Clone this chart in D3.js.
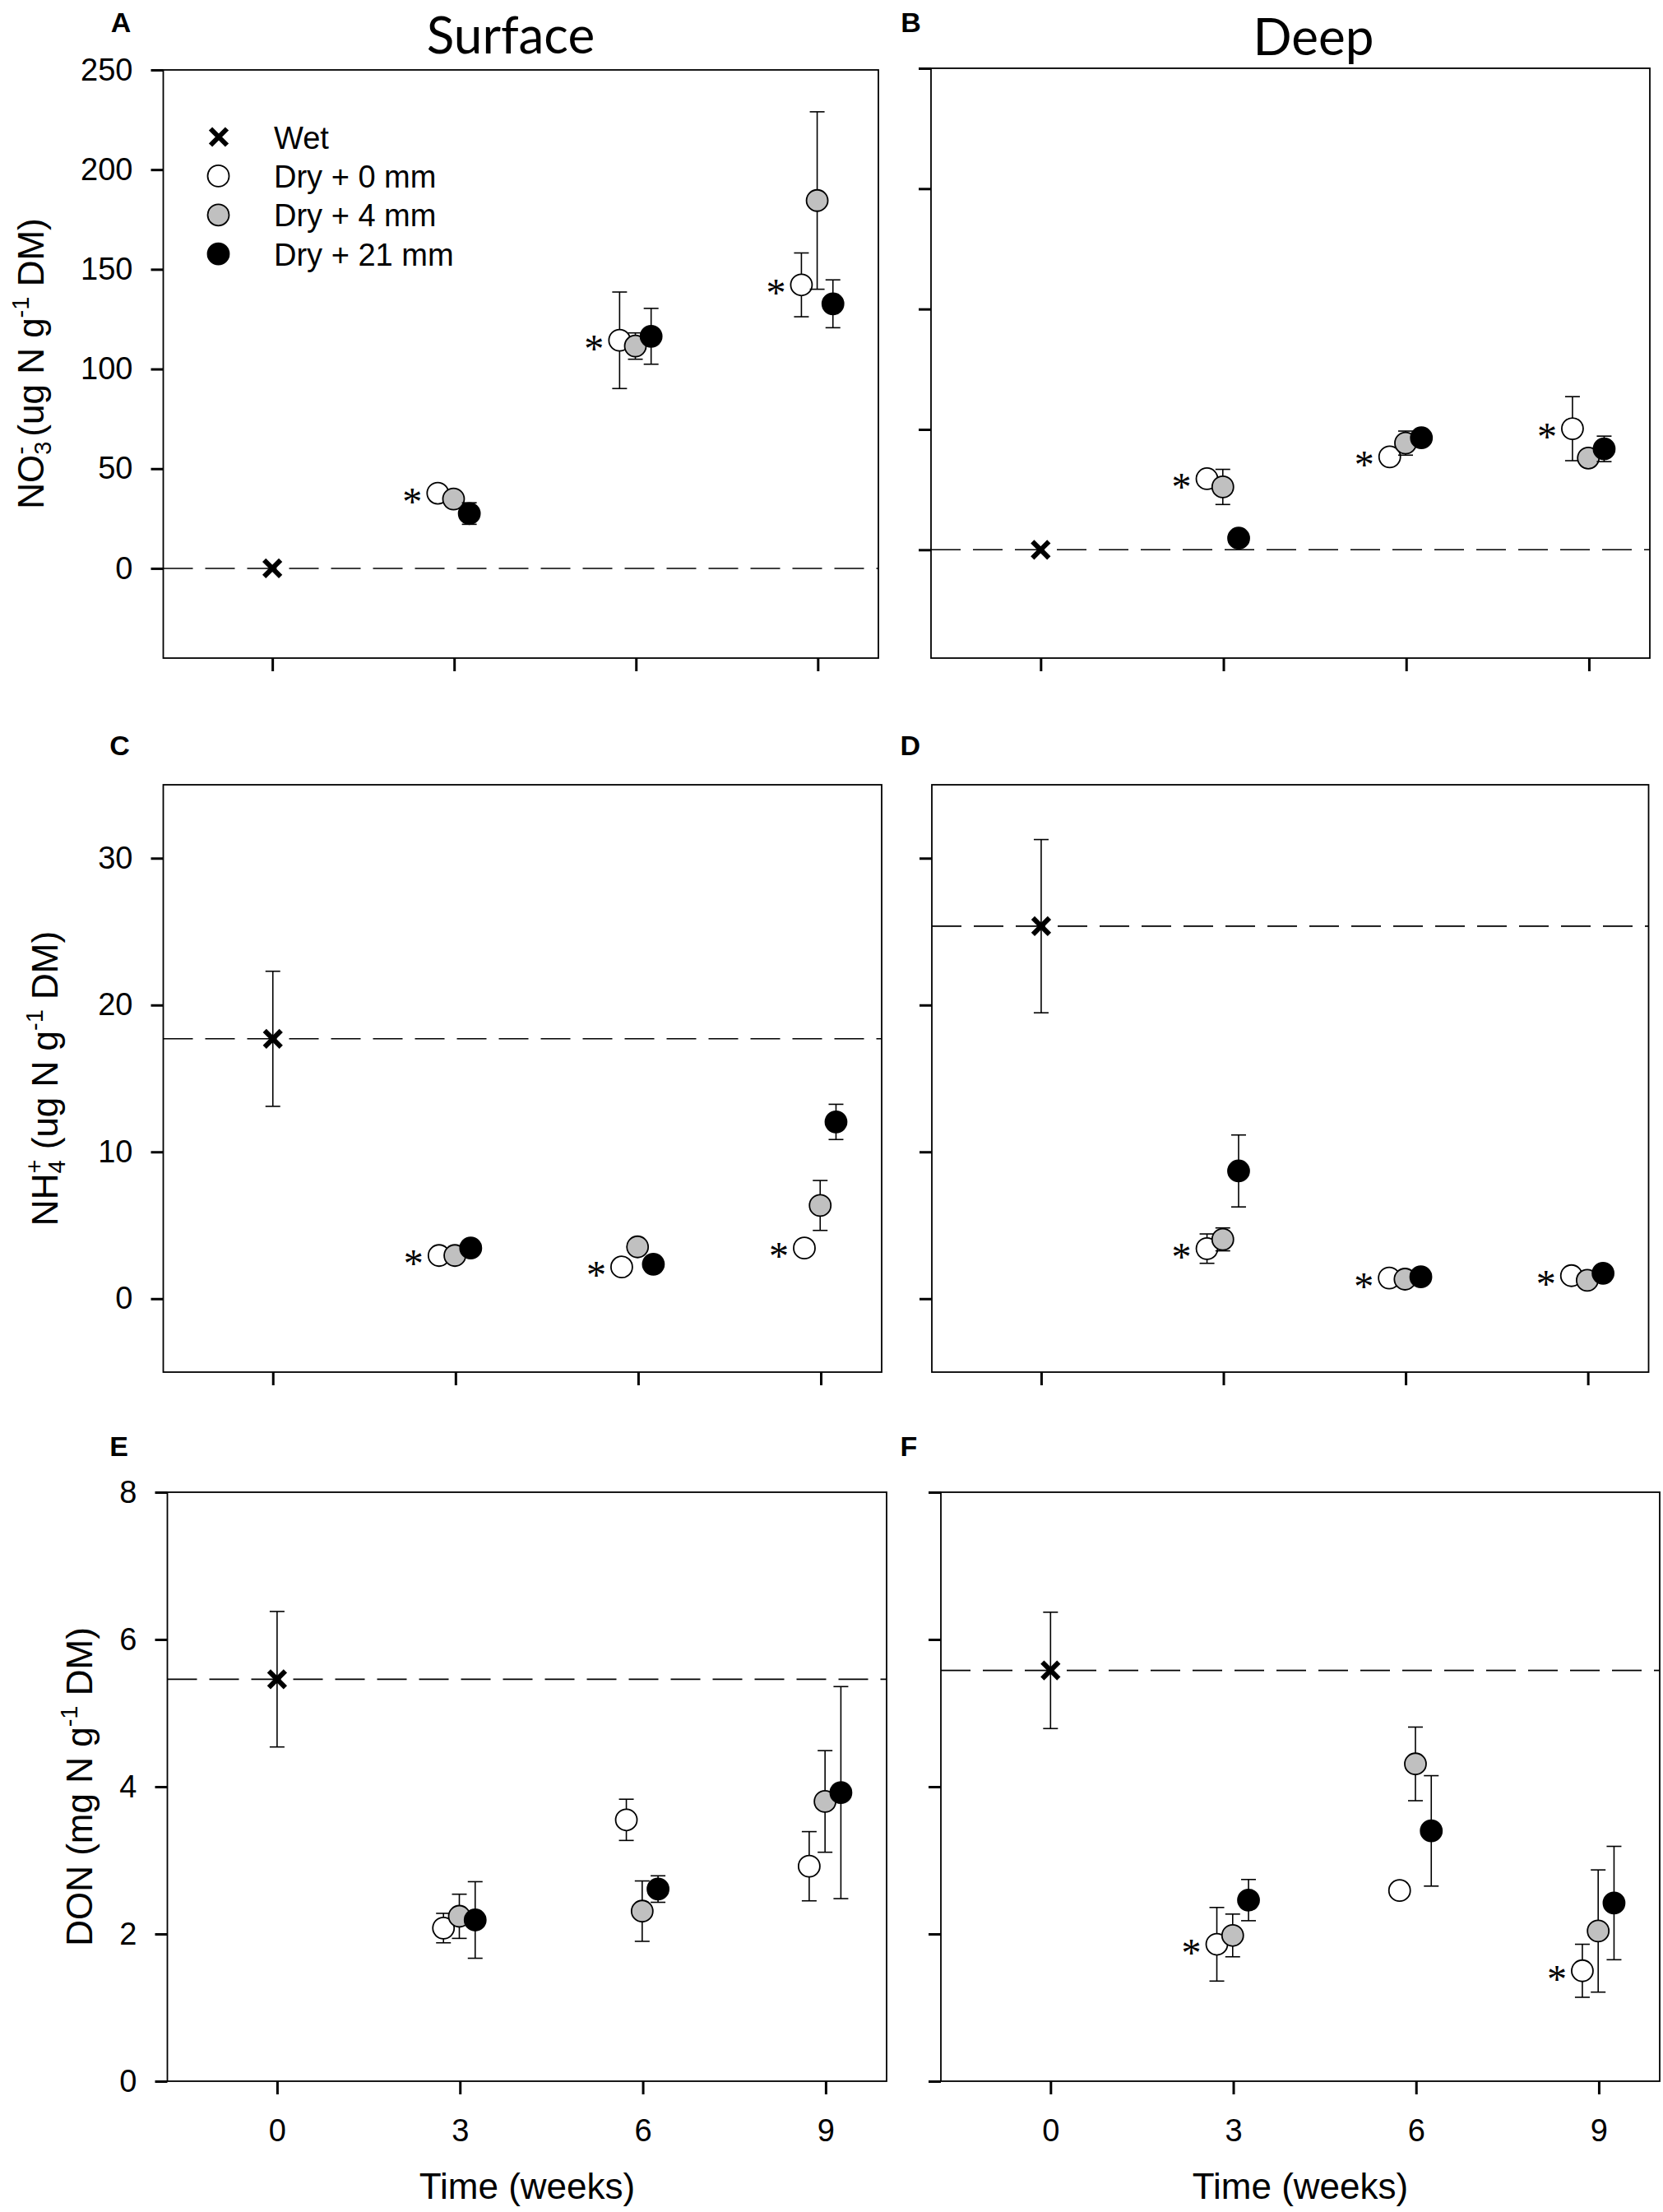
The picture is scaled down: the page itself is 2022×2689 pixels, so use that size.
<!DOCTYPE html>
<html>
<head>
<meta charset="utf-8">
<script src="https://cdn.jsdelivr.net/npm/d3@7"></script>
<style>
  body { margin: 0; background: #fff; }
  svg { display: block; }
</style>
</head>
<body>
<script>
// canvas
const W = 2022, H = 2689;

// ---- data ----
const xTicks = [0, 3, 6, 9];
const weeks = [3, 6, 9];
const seriesNames = ["Wet", "Dry + 0 mm", "Dry + 4 mm", "Dry + 21 mm"];

// y axis ranges and ticks
const yDomainNo3Surf = [-45, 250];
const yDomainNo3Deep = [-45, 200];
const yDomainNh4 = [-5, 35];
const yDomainDon = [0, 8];
const yTicksNo3Surf = [0, 50, 100, 150, 200, 250];
const yTicksNo3Deep = [0, 50, 100, 150, 200];
const yTicksNh4 = [0, 10, 20, 30];
const yTicksDon = [0, 2, 4, 6, 8];

// A: NO3- surface   (wet = [mean, se] at week 0)
const no3SurfWet = [0, 0];
const no3SurfDry0 = [37.7, 114.4, 142.2];
const no3SurfDry0Se = [1.5, 24.2, 16.0];
const no3SurfDry4 = [34.8, 111.5, 184.5];
const no3SurfDry4Se = [1.5, 6.6, 44.5];
const no3SurfDry21 = [27.5, 116.4, 132.7];
const no3SurfDry21Se = [5.4, 14.0, 12.0];

// B: NO3- deep
const no3DeepWet = [0, 0];
const no3DeepDry0 = [29.5, 38.6, 50.3];
const no3DeepDry0Se = [1.5, 1.5, 13.3];
const no3DeepDry4 = [26.1, 44.3, 38.1];
const no3DeepDry4Se = [7.3, 5.0, 1.5];
const no3DeepDry21 = [4.8, 46.5, 41.9];
const no3DeepDry21Se = [1.5, 1.5, 5.3];

// C: NH4+ surface
const nh4SurfWet = [17.7, 4.6];
const nh4SurfDry0 = [2.94, 2.16, 3.45];
const nh4SurfDry0Se = [0.3, 0.3, 0.3];
const nh4SurfDry4 = [2.94, 3.53, 6.35];
const nh4SurfDry4Se = [0.3, 0.3, 1.7];
const nh4SurfDry21 = [3.45, 2.35, 12.04];
const nh4SurfDry21Se = [0.3, 0.45, 1.2];

// D: NH4+ deep
const nh4DeepWet = [25.37, 5.9];
const nh4DeepDry0 = [3.41, 1.41, 1.57];
const nh4DeepDry0Se = [1.0, 0.2, 0.2];
const nh4DeepDry4 = [4.04, 1.33, 1.25];
const nh4DeepDry4Se = [0.78, 0.2, 0.2];
const nh4DeepDry21 = [8.7, 1.49, 1.73];
const nh4DeepDry21Se = [2.45, 0.2, 0.2];

// E: DON surface
const donSurfWet = [5.46, 0.92];
const donSurfDry0 = [2.08, 3.55, 2.92];
const donSurfDry0Se = [0.2, 0.28, 0.47];
const donSurfDry4 = [2.24, 2.31, 3.80];
const donSurfDry4Se = [0.3, 0.41, 0.69];
const donSurfDry21 = [2.19, 2.61, 3.92];
const donSurfDry21Se = [0.52, 0.18, 1.44];

// F: DON deep
const donDeepWet = [5.58, 0.79];
const donDeepDry0 = [1.86, 2.59, 1.50];
const donDeepDry0Se = [0.5, 0.05, 0.36];
const donDeepDry4 = [1.98, 4.31, 2.04];
const donDeepDry4Se = [0.29, 0.5, 0.83];
const donDeepDry21 = [2.46, 3.40, 2.42];
const donDeepDry21Se = [0.28, 0.75, 0.77];

// weeks flagged with an asterisk (next to Dry + 0 mm)
const starsA = [3, 6, 9];
const starsB = [3, 6, 9];
const starsC = [3, 6, 9];
const starsD = [3, 6, 9];
const starsE = [];
const starsF = [3, 9];

// ---- styles / layout ----
const SANS = "'Liberation Sans', Arial, Helvetica, sans-serif";
const fills = ["#ffffff", "#c0c0c0", "#000000"];
const jitter = [-0.27, -0.01, 0.25];   // horizontal offset of the three dry series (weeks)
const xDomain = [-1.8, 10];
const R = 13;

const panels = [
    { id: "A", box: [198.5, 85, 1068, 800], yDomain: yDomainNo3Surf, yTicks: yTicksNo3Surf, yLabels: true, xLabels: false,
      wet: no3SurfWet, dry: [no3SurfDry0, no3SurfDry4, no3SurfDry21], se: [no3SurfDry0Se, no3SurfDry4Se, no3SurfDry21Se],
      stars: starsA, letter: [134.7, 38.6] },
    { id: "B", box: [1132, 83, 2006, 800], yDomain: yDomainNo3Deep, yTicks: yTicksNo3Deep, yLabels: false, xLabels: false,
      wet: no3DeepWet, dry: [no3DeepDry0, no3DeepDry4, no3DeepDry21], se: [no3DeepDry0Se, no3DeepDry4Se, no3DeepDry21Se],
      stars: starsB, letter: [1095.3, 38.6] },
    { id: "C", box: [198.5, 954, 1072, 1668], yDomain: yDomainNh4, yTicks: yTicksNh4, yLabels: true, xLabels: false,
      wet: nh4SurfWet, dry: [nh4SurfDry0, nh4SurfDry4, nh4SurfDry21], se: [nh4SurfDry0Se, nh4SurfDry4Se, nh4SurfDry21Se],
      stars: starsC, letter: [133.3, 918] },
    { id: "D", box: [1133, 954, 2004.5, 1668], yDomain: yDomainNh4, yTicks: yTicksNh4, yLabels: false, xLabels: false,
      wet: nh4DeepWet, dry: [nh4DeepDry0, nh4DeepDry4, nh4DeepDry21], se: [nh4DeepDry0Se, nh4DeepDry4Se, nh4DeepDry21Se],
      stars: starsD, letter: [1094.6, 918] },
    { id: "E", box: [203.5, 1814, 1078, 2530], yDomain: yDomainDon, yTicks: yTicksDon, yLabels: true, xLabels: true,
      wet: donSurfWet, dry: [donSurfDry0, donSurfDry4, donSurfDry21], se: [donSurfDry0Se, donSurfDry4Se, donSurfDry21Se],
      stars: starsE, letter: [133.3, 1770] },
    { id: "F", box: [1144, 1814, 2018, 2530], yDomain: yDomainDon, yTicks: yTicksDon, yLabels: false, xLabels: true,
      wet: donDeepWet, dry: [donDeepDry0, donDeepDry4, donDeepDry21], se: [donDeepDry0Se, donDeepDry4Se, donDeepDry21Se],
      stars: starsF, letter: [1094.6, 1770] }
];

const svg = d3.select("body").append("svg")
    .attr("width", W)
    .attr("height", H);

svg.append("rect").attr("width", W).attr("height", H).attr("fill", "#fff");

// error bar with caps
function errBar(g, cx, y, m, e) {
    if (!e) return;
    const y1 = y(m - e), y2 = y(m + e);
    g.append("line").attr("x1", cx).attr("x2", cx).attr("y1", y1).attr("y2", y2)
        .attr("stroke", "#000").attr("stroke-width", 1.6);
    [y1, y2].forEach(v => {
        g.append("line").attr("x1", cx - 9).attr("x2", cx + 9).attr("y1", v).attr("y2", v)
            .attr("stroke", "#000").attr("stroke-width", 1.6);
    });
}

function cross(g, cx, cy) {
    const s = 10;
    g.append("path")
        .attr("d", `M${cx - s},${cy - s}L${cx + s},${cy + s}M${cx - s},${cy + s}L${cx + s},${cy - s}`)
        .attr("stroke", "#000").attr("stroke-width", 6).attr("fill", "none");
}

function drawPanel(p) {
    const [x0, y0, x1, y1] = p.box;
    const x = d3.scaleLinear().domain(xDomain).range([x0, x1]);
    const y = d3.scaleLinear().domain(p.yDomain).range([y1, y0]);
    const g = svg.append("g").attr("class", "panel-" + p.id);

    // panel letter
    g.append("text").attr("x", p.letter[0]).attr("y", p.letter[1])
        .attr("font-family", SANS).attr("font-weight", "bold").attr("font-size", 34)
        .text(p.id);

    // y axis
    const ya = g.append("g").attr("transform", `translate(${x0},0)`)
        .call(d3.axisLeft(y).tickValues(p.yTicks).tickSize(15).tickPadding(22)
            .tickFormat(p.yLabels ? d3.format("d") : ""));
    ya.select(".domain").remove();

    // x axis
    const xa = g.append("g").attr("transform", `translate(0,${y1})`)
        .call(d3.axisBottom(x).tickValues(xTicks).tickSize(16)
            .tickFormat(p.xLabels ? d3.format("d") : ""));
    xa.select(".domain").remove();
    xa.selectAll("text").attr("y", 73).attr("dy", 0);

    [ya, xa].forEach(a => {
        a.selectAll(".tick line").attr("stroke", "#000").attr("stroke-width", 3);
        a.selectAll("text").attr("font-family", SANS).attr("font-size", 38).attr("fill", "#000");
    });

    // frame
    g.append("rect").attr("x", x0).attr("y", y0).attr("width", x1 - x0).attr("height", y1 - y0)
        .attr("fill", "none").attr("stroke", "#000").attr("stroke-width", 1.8);

    // dashed reference line at the wet mean
    g.append("line").attr("x1", x0).attr("x2", x1).attr("y1", y(p.wet[0])).attr("y2", y(p.wet[0]))
        .attr("stroke", "#000").attr("stroke-width", 1.6).attr("stroke-dasharray", "36,15");

    // wet
    errBar(g, x(0), y, p.wet[0], p.wet[1]);
    cross(g, x(0), y(p.wet[0]));

    // dry treatments
    p.dry.forEach((vals, s) => {
        vals.forEach((v, i) => {
            const cx = x(weeks[i] + jitter[s]);
            errBar(g, cx, y, v, p.se[s][i]);
            g.append("circle").attr("cx", cx).attr("cy", y(v)).attr("r", R)
                .attr("fill", fills[s]).attr("stroke", "#000").attr("stroke-width", 1.8);
        });
    });

    // asterisks
    p.stars.forEach(wk => {
        const i = weeks.indexOf(wk);
        g.append("text")
            .attr("x", x(wk + jitter[0]) - 31)
            .attr("y", y(p.dry[0][i]) + 3 + 23)
            .attr("text-anchor", "middle")
            .attr("font-family", "'Liberation Serif', 'Times New Roman', serif")
            .attr("font-size", 48)
            .text("*");
    });
    return { x, y };
}

panels.forEach(drawPanel);

// column titles
svg.append("text").attr("x", 621).attr("y", 64.5).attr("text-anchor", "middle")
    .attr("font-family", "Lato, 'Open Sans', sans-serif").attr("font-size", 62).text("Surface");
svg.append("text").attr("x", 1597).attr("y", 66.6).attr("text-anchor", "middle")
    .attr("font-family", "Lato, 'Open Sans', sans-serif").attr("font-size", 62).text("Deep");

// y axis titles (rotated), with sub/superscripts
function yTitle(cx, cy, parts) {
    const t = svg.append("text")
        .attr("transform", `translate(${cx},${cy}) rotate(-90)`)
        .attr("text-anchor", "middle")
        .attr("font-family", SANS).attr("font-size", 44);
    parts.forEach(p => {
        const ts = t.append("tspan").text(p.t);
        if (p.fs) ts.attr("font-size", p.fs);
        if (p.dx) ts.attr("dx", p.dx);
        if (p.dy) ts.attr("dy", p.dy);
    });
}

yTitle(53, 442, [
    { t: "NO" },
    { t: "3", fs: 29, dy: 9 },
    { t: "-", fs: 29, dx: -16, dy: -27 },
    { t: " (ug N g", dy: 18 },
    { t: "-1", fs: 29, dy: -18 },
    { t: "  DM)", dy: 18 }
]);
yTitle(70, 1311, [
    { t: "NH" },
    { t: "4", fs: 29, dy: 9 },
    { t: "+", fs: 29, dx: -16, dy: -27 },
    { t: " (ug N g", dy: 18 },
    { t: "-1", fs: 29, dy: -18 },
    { t: " DM)", dy: 18 }
]);
yTitle(112, 2172, [
    { t: "DON (mg N g" },
    { t: "-1", fs: 29, dy: -18 },
    { t: " DM)", dy: 18 }
]);

// x axis titles
[[641, 2673], [1581, 2673]].forEach(([cx, cy]) => {
    svg.append("text").attr("x", cx).attr("y", cy).attr("text-anchor", "middle")
        .attr("font-family", SANS).attr("font-size", 44).text("Time (weeks)");
});

// legend (panel A)
const leg = svg.append("g").attr("class", "legend");
seriesNames.forEach((name, k) => {
    const ly = 166.5 + k * 47.4;
    if (k === 0) {
        cross(leg, 266, ly);
    } else {
        leg.append("circle").attr("cx", 265.5).attr("cy", ly).attr("r", R)
            .attr("fill", fills[k - 1]).attr("stroke", "#000").attr("stroke-width", 1.8);
    }
    leg.append("text").attr("x", 333).attr("y", ly + 14)
        .attr("font-family", SANS).attr("font-size", 38).text(name);
});
</script>
</body>
</html>
